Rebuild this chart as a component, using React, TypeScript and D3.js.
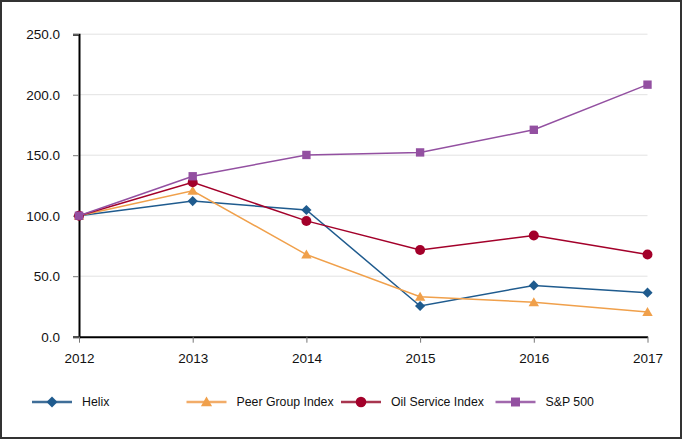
import * as d3 from "d3";
import { useEffect, useRef } from "react";

const years = ["2012", "2013", "2014", "2015", "2016", "2017"];
const yTicks = [0, 50, 100, 150, 200, 250];

const helix = [100, 112.1, 104.7, 25.4, 42.4, 36.4];
const peerGroup = [100, 120.6, 67.9, 33.1, 28.5, 20.5];
const oilService = [100, 127.6, 95.7, 71.7, 83.6, 67.9];
const sp500 = [100, 132.6, 150.2, 152.3, 171.0, 208.3];

const seriesNames = ["Helix", "Peer Group Index", "Oil Service Index", "S&P 500"];

type Series = { name: string; values: number[]; color: string; legendColor: string; symbol: d3.SymbolType; size: number };

const series: Series[] = [
    { name: seriesNames[0], values: helix, color: "#1f5b8e", legendColor: "#3f6e98", symbol: d3.symbolDiamond2, size: 66 },
    { name: seriesNames[1], values: peerGroup, color: "#f0a04b", legendColor: "#f2ac68", symbol: d3.symbolTriangle, size: 47 },
    { name: seriesNames[2], values: oilService, color: "#a3002a", legendColor: "#a8354f", symbol: d3.symbolCircle, size: 78 },
    { name: seriesNames[3], values: sp500, color: "#9350a1", legendColor: "#a168ad", symbol: d3.symbolSquare, size: 70 },
];

const App = () => {
    const ref = useRef<SVGSVGElement | null>(null);

    useEffect(() => {
        if (!ref.current) return;
        document.body.style.margin = "0";

        const width = 682, height = 440;
        const svg = d3.select(ref.current);
        svg.selectAll("*").remove();

        const font = "'Liberation Sans', Arial, sans-serif";

        // outer frame
        svg.append("rect")
            .attr("x", 1).attr("y", 1)
            .attr("width", width - 2).attr("height", height - 3)
            .attr("fill", "white")
            .attr("stroke", "#333")
            .attr("stroke-width", 2);

        const x = d3.scalePoint<string>().domain(years).range([79, 647.5]);
        const y = d3.scaleLinear().domain([0, 250]).range([336.7, 34.2]);

        // grid
        svg.append("g")
            .selectAll("line")
            .data(yTicks.filter(d => d > 0))
            .join("line")
            .attr("x1", x("2012")!).attr("x2", x("2017")!)
            .attr("y1", d => y(d)).attr("y2", d => y(d))
            .attr("stroke", "#e2e2e2")
            .attr("stroke-width", 1);

        // y axis
        const yAxis = svg.append("g")
            .attr("transform", `translate(${x("2012")},0)`)
            .call(d3.axisLeft(y).tickValues(yTicks).tickFormat(d3.format(".1f")).tickSize(6).tickPadding(13));
        yAxis.select(".domain").attr("stroke", "#000").attr("stroke-width", 2);
        yAxis.selectAll(".tick line").attr("stroke", "#777");
        yAxis.selectAll("text")
            .attr("font-family", font)
            .attr("font-size", 13.5)
            .attr("fill", "#111");

        // x axis
        const xAxis = svg.append("g")
            .attr("transform", `translate(0,${y(0)})`)
            .call(d3.axisBottom(x).tickSize(6).tickPadding(11).tickSizeOuter(0));
        xAxis.select(".domain").attr("stroke", "#000").attr("stroke-width", 2);
        xAxis.selectAll(".tick line").attr("stroke", "#777");
        xAxis.selectAll("text")
            .attr("font-family", font)
            .attr("font-size", 13.5)
            .attr("fill", "#111");

        const line = d3.line<number>()
            .x((_, i) => x(years[i])!)
            .y(d => y(d));

        series.forEach(s => {
            svg.append("path")
                .datum(s.values)
                .attr("d", line)
                .attr("fill", "none")
                .attr("stroke", s.color)
                .attr("stroke-width", 1.5);

            svg.append("g")
                .selectAll("path")
                .data(s.values)
                .join("path")
                .attr("transform", (d, i) => `translate(${x(years[i])},${y(d) + (s.symbol === d3.symbolTriangle ? 1 : 0)})`)
                .attr("d", d3.symbol(s.symbol, s.size)())
                .attr("fill", s.color);
        });

        // legend
        const legend = svg.append("g").attr("transform", "translate(32,402)");
        const item = legend.selectAll("g")
            .data(series)
            .join("g")
            .attr("transform", (_, i) => `translate(${i * 154.5},0)`);
        item.append("line")
            .attr("x1", 0).attr("x2", 40)
            .attr("stroke", d => d.legendColor)
            .attr("stroke-width", 2.5);
        item.append("path")
            .attr("transform", d => `translate(20,${d.symbol === d3.symbolTriangle ? 1 : 0})`)
            .attr("d", d => d3.symbol(d.symbol, d.size * 1.15)())
            .attr("fill", d => d.color);
        item.append("text")
            .attr("x", 50)
            .attr("dy", "0.35em")
            .attr("font-family", font)
            .attr("font-size", 12.3)
            .attr("fill", "#111")
            .text(d => d.name);
    }, []);

    return <svg width={682} height={440} ref={ref} style={{ display: "block" }} />;
};

export default App;
